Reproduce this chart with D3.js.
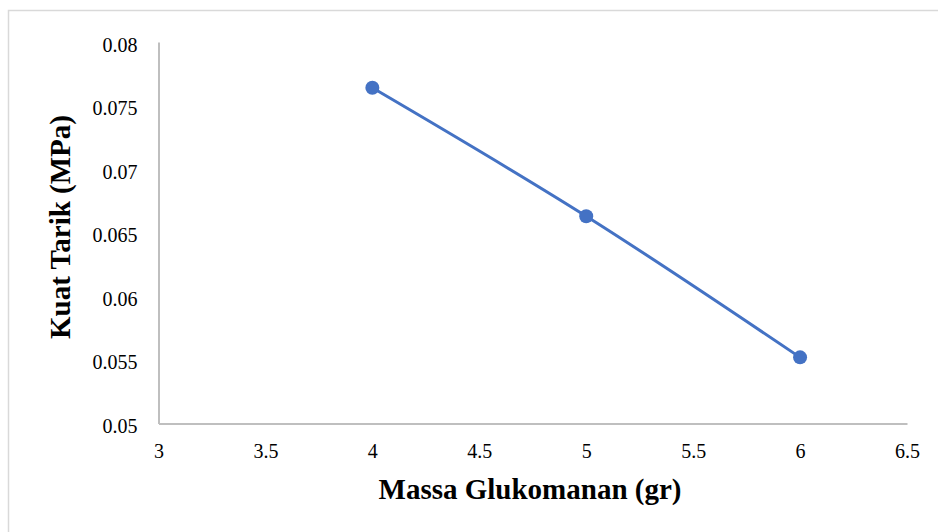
<!DOCTYPE html>
<html>
<head>
<meta charset="utf-8">
<script src="https://cdn.jsdelivr.net/npm/d3@7"></script>
<style>
  html, body { margin: 0; padding: 0; background: #fff; }
  svg { display: block; }
</style>
</head>
<body>
<svg id="chart" width="938" height="532"></svg>
<script>
// Tensile strength vs. glucomannan mass
const massa = [4, 5, 6];
const kuatTarik = [0.0764, 0.0663, 0.0552];
const xTicks = [3, 3.5, 4, 4.5, 5, 5.5, 6, 6.5];
const yTicks = [0.05, 0.055, 0.06, 0.065, 0.07, 0.075, 0.08];
const xTitle = "Massa Glukomanan (gr)";
const yTitle = "Kuat Tarik (MPa)";

const svg = d3.select("#chart");
const W = 938, H = 532;
const m = { left: 158.5, right: 907, top: 42, bottom: 423.5 };
const font = "Liberation Serif, Times New Roman, serif";
const blue = "#4472C4";

// outer frame (top and left edges visible)
svg.append("path")
  .attr("d", `M8.5,${H} V10.5 H${W}`)
  .attr("fill", "none").attr("stroke", "#d9d9d9").attr("stroke-width", 1.5);

const x = d3.scaleLinear().domain([3, 6.5]).range([m.left, m.right]);
const y = d3.scaleLinear().domain([0.05, 0.08]).range([m.bottom, m.top]);

function styleAxis(g) {
  g.attr("font-family", font).attr("font-size", 20);
  g.select(".domain").attr("stroke", "#bfbfbf").attr("stroke-width", 2);
  g.selectAll(".tick text")
    .attr("fill", "#000")
    .style("font-family", font)
    .style("font-size", "20px");
}

// x axis
svg.append("g")
  .attr("transform", `translate(0,${m.bottom})`)
  .call(d3.axisBottom(x).tickValues(xTicks).tickSize(0).tickPadding(20)
    .tickFormat(d => String(d)))
  .call(styleAxis);

// y axis
svg.append("g")
  .attr("transform", `translate(${m.left},0)`)
  .call(d3.axisLeft(y).tickValues(yTicks).tickSize(0).tickPadding(21)
    .tickFormat(d => String(+d.toFixed(3))))
  .call(styleAxis)
  .selectAll(".tick text").attr("dy", "0.45em");

// series line
const pts = massa.map((v, i) => [v, kuatTarik[i]]);
svg.append("path")
  .datum(pts)
  .attr("fill", "none")
  .attr("stroke", blue)
  .attr("stroke-width", 3)
  .attr("stroke-linecap", "round")
  .attr("d", d3.line().x(d => x(d[0])).y(d => y(d[1])).curve(d3.curveMonotoneX));

// markers
svg.selectAll("circle.pt")
  .data(pts)
  .join("circle")
  .attr("class", "pt")
  .attr("cx", d => x(d[0]))
  .attr("cy", d => y(d[1]))
  .attr("r", 7)
  .attr("fill", blue);

// axis titles
svg.append("text")
  .attr("x", 530)
  .attr("y", 499)
  .attr("text-anchor", "middle")
  .style("font-family", font)
  .style("font-weight", "bold")
  .style("font-size", "29px")
  .text(xTitle);

svg.append("text")
  .attr("transform", `translate(70,227) rotate(-90)`)
  .attr("text-anchor", "middle")
  .style("font-family", font)
  .style("font-weight", "bold")
  .style("font-size", "29px")
  .text(yTitle);
</script>
</body>
</html>
